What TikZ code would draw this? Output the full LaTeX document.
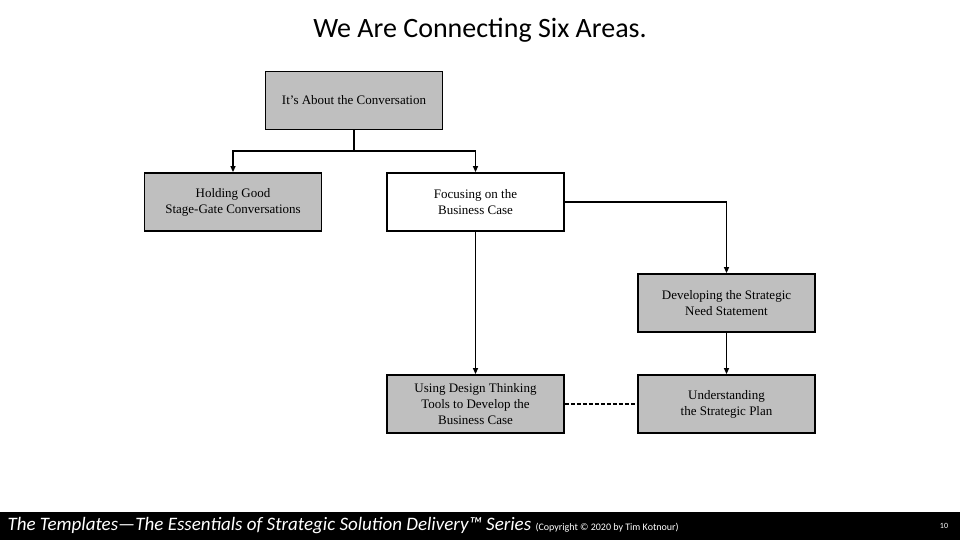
\documentclass[tikz,border=0pt]{standalone}
\usepackage{fontspec}
\setmainfont{Liberation Serif}
\newfontfamily\carlitofont{Carlito}
\usetikzlibrary{arrows.meta}
\begin{document}
\begin{tikzpicture}[x=1pt,y=-1pt,
  box/.style={draw=black,line width=1.8pt,minimum width=177pt,minimum height=58pt,align=center,font=\fontsize{13}{16}\selectfont,inner sep=2pt},
  gbox/.style={box,fill=black!25},
  wbox/.style={box,fill=white},
  conn/.style={line width=1.4pt,-{Triangle[length=6pt,width=5pt]}}]
\useasboundingbox (0,0) rectangle (960,540);
\fill[white] (0,0) rectangle (960,540);
\node[font=\carlitofont\fontsize{28}{32}\selectfont] (title) at (480,30) {We Are Connecting Six Areas.};
\node[gbox] (top) at (354,100.5) {It's About the Conversation};
\node[gbox] (hold) at (233,202) {Holding Good\\Stage-Gate Conversations};
\node[wbox] (focus) at (475.5,202) {Focusing on the\\Business Case};
\node[gbox] (dev) at (726.5,303) {Developing the Strategic\\Need Statement};
\node[gbox] (use) at (475.5,404) {Using Design Thinking\\Tools to Develop the\\Business Case};
\node[gbox] (und) at (726.5,404) {Understanding\\the Strategic Plan};
\coordinate (j) at (354,151);
\draw[conn] (top.south) -- (j) -| (hold.north);
\draw[conn] (j) -| (focus.north);
\draw[conn] (focus.east) -| (dev.north);
\draw[conn] (focus.south) -- (use.north);
\draw[conn] (dev.south) -- (und.north);
\draw[line width=1.4pt,dash pattern=on 4pt off 2pt] (use.east) -- (und.west);
\fill[black] (0,512) rectangle (960,540);
\node[anchor=west,text=white,font=\carlitofont\itshape\fontsize{19}{23}\selectfont] (foot) at (4,526) {The Templates—The Essentials of Strategic Solution Delivery™ Series {\upshape\fontsize{10}{12}\selectfont (Copyright © 2020 by Tim Kotnour)}};
\node[text=white,font=\carlitofont\fontsize{8}{10}\selectfont] (pg) at (944,526) {10};
\end{tikzpicture}
\end{document}
